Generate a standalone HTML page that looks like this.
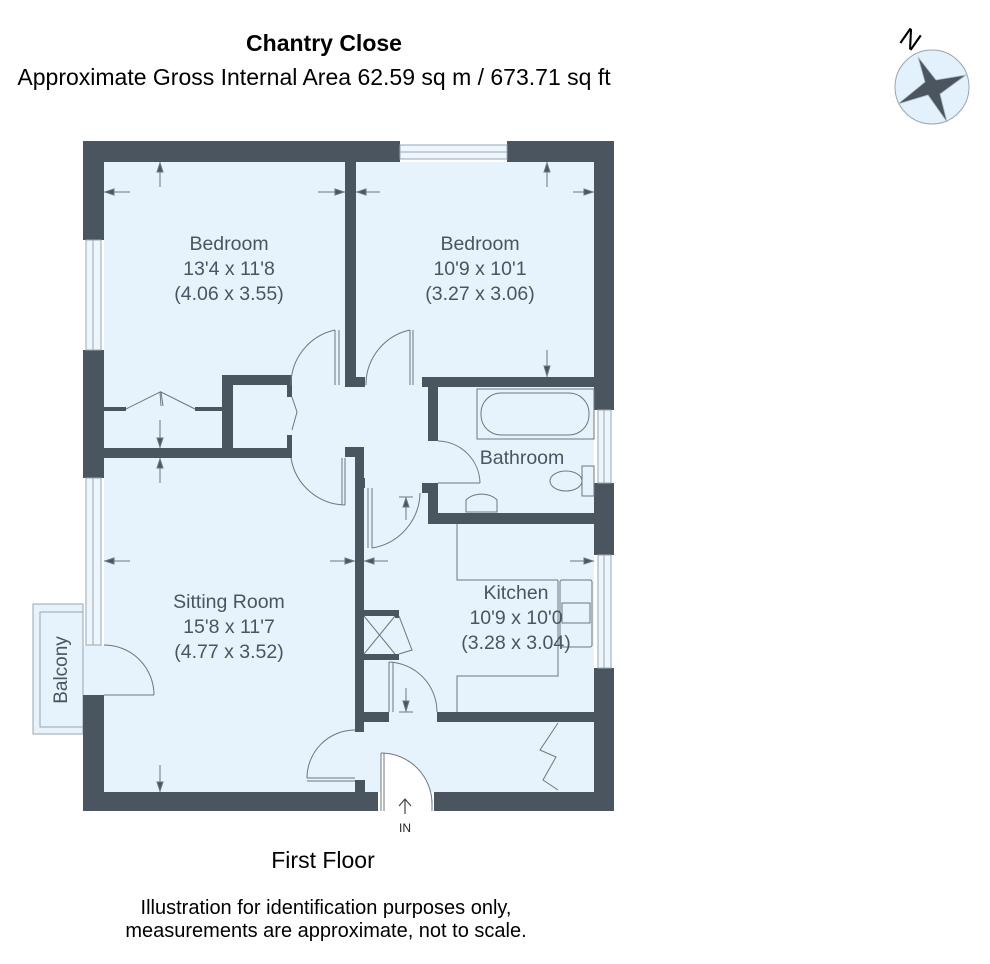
<!DOCTYPE html>
<html><head><meta charset="utf-8"><style>
html,body{margin:0;padding:0;background:#fff;}
svg{display:block;}
text{font-family:"Liberation Sans",Arial,sans-serif;}
</style></head><body>
<svg width="990" height="964" viewBox="0 0 990 964" xmlns="http://www.w3.org/2000/svg">
<text x="324" y="51" font-size="23" font-weight="bold" text-anchor="middle" fill="#000">Chantry Close</text>
<text x="314" y="85" font-size="23" text-anchor="middle" fill="#000">Approximate Gross Internal Area 62.59 sq m / 673.71 sq ft</text>

<!-- compass -->
<g>
<text x="910" y="48" font-size="26" fill="#000" transform="rotate(35 910 40)" text-anchor="middle">N</text>
<circle cx="932" cy="87" r="37" fill="#e3f1fc" stroke="#9aa5ae" stroke-width="1"/>
<polygon points="918,57 936,80 966,75 940,94 947,122 928,95 898,104 925,82" fill="#4a5560" stroke="#b0bac2" stroke-width="0.8"/>
</g>

<!-- floor fill -->
<rect x="104" y="162" width="490" height="630" fill="#e6f2fc"/>
<rect x="83" y="645" width="21" height="50" fill="#e6f2fc"/>
<rect x="33" y="604" width="50" height="130" fill="#e6f2fc" stroke="#9aa5ae"/>
<rect x="40" y="612" width="43" height="115" fill="none" stroke="#9aa5ae"/>
<text x="0" y="0" font-size="19" fill="#4a5560" text-anchor="middle" transform="translate(67 670) rotate(-90)">Balcony</text>

<g fill="#4a5560">
<rect x="83" y="141" width="317" height="21"/>
<rect x="507" y="141" width="107" height="21"/>
<rect x="83" y="141" width="21" height="99"/>
<rect x="83" y="350" width="21" height="128"/>
<rect x="83" y="695" width="21" height="116"/>
<rect x="594" y="141" width="20" height="269"/>
<rect x="594" y="483" width="20" height="72"/>
<rect x="594" y="668" width="20" height="143"/>
<rect x="83" y="792" width="295" height="19"/>
<rect x="434" y="792" width="180" height="19"/>
<rect x="345" y="162" width="11" height="223"/>
<rect x="345" y="377" width="20" height="10"/>
<rect x="104" y="448" width="188" height="10"/>
<rect x="222" y="375" width="70" height="10"/>
<rect x="222" y="375" width="11" height="80"/>
<rect x="287" y="385" width="5" height="12"/>
<rect x="287" y="435" width="5" height="13"/>
<rect x="104" y="407" width="22" height="4"/>
<rect x="195" y="407" width="27" height="4"/>
<rect x="422" y="377" width="172" height="10"/>
<rect x="428" y="377" width="10" height="64"/>
<rect x="422" y="483" width="16" height="10"/>
<rect x="428" y="483" width="10" height="41"/>
<rect x="428" y="513" width="166" height="11"/>
<rect x="345" y="447" width="19" height="10"/>
<rect x="355" y="447" width="9" height="285"/>
<rect x="355" y="478" width="10" height="10"/>
<rect x="355" y="780" width="10" height="12"/>
<rect x="355" y="712" width="34" height="10"/>
<rect x="437" y="712" width="157" height="10"/>
<rect x="364" y="610" width="35" height="6"/>
<rect x="364" y="654" width="35" height="6"/>
<rect x="395" y="610" width="4" height="8"/>
</g>

<g fill="#eef6fd" stroke="#9aa5ae" stroke-width="1">
<rect x="400" y="145" width="107" height="14"/>
<rect x="86" y="240" width="15" height="110"/>
<rect x="86" y="478" width="15" height="167"/>
<rect x="598" y="410" width="13" height="73"/>
<rect x="598" y="555" width="13" height="113"/>
</g>
<g stroke="#9aa5ae" stroke-width="1" fill="none">
<line x1="400" y1="152" x2="507" y2="152"/>
<line x1="93" y1="240" x2="93" y2="350"/>
<line x1="93" y1="478" x2="93" y2="645"/>
<line x1="604" y1="410" x2="604" y2="483"/>
<line x1="604" y1="555" x2="604" y2="668"/>
</g>

<path d="M381,753 A51,51 0 0 1 432,804 L432,811 L381,811 Z" fill="#fff"/>
<g stroke="#6c7780" stroke-width="1" fill="none">
<path d="M381,753 A51,51 0 0 1 432,804"/><line x1="381" y1="753" x2="381" y2="811"/><line x1="384" y1="753" x2="384" y2="811"/><line x1="432" y1="800" x2="432" y2="811"/>
<path d="M335,330 A56,56 0 0 0 291,385"/><line x1="335" y1="330" x2="335" y2="385"/><line x1="339" y1="330" x2="339" y2="385"/>
<path d="M410,330 A56,56 0 0 0 366,385"/><line x1="410" y1="330" x2="410" y2="385"/><line x1="413" y1="330" x2="413" y2="385"/>
<path d="M291,458 A56,56 0 0 0 345,505"/><line x1="345" y1="458" x2="345" y2="505"/><line x1="342" y1="458" x2="342" y2="505"/>
<path d="M438,441 A43,43 0 0 1 480,483"/><line x1="438" y1="483" x2="480" y2="483"/>
<path d="M420,493 A57,57 0 0 1 372,548"/><line x1="368" y1="488" x2="368" y2="548"/><line x1="372" y1="488" x2="372" y2="548"/>
<path d="M389,662 A50,50 0 0 1 437,712"/><line x1="389" y1="662" x2="389" y2="712"/><line x1="393" y1="662" x2="393" y2="712"/>
<path d="M355,730 A48,48 0 0 0 307,778"/><line x1="307" y1="778" x2="355" y2="778"/><line x1="307" y1="781" x2="355" y2="781"/>
<path d="M104,645 A50,50 0 0 1 154,695"/><line x1="104" y1="695" x2="154" y2="695"/>
<path d="M126,409 L160,392 L161,406 M195,409 L161,392 L163,406"/>
<path d="M292,397 L297,412 L292,430"/>
<path d="M558,723 L540,750 L556,757 L543,780 L558,790"/>
<path d="M364,616 L395,654 M395,616 L364,654 M399,616 L412,650 L399,654"/>
<path d="M457,524 L457,580 L558,580 M558,580 L558,676 L457,676 L457,712"/>
<rect x="560" y="580" width="32" height="67" rx="2"/>
<rect x="562" y="603" width="28" height="20"/>
<rect x="477" y="389" width="117" height="50"/>
<rect x="481" y="393" width="108" height="42" rx="20"/>
<rect x="582" y="466" width="12" height="30"/>
<ellipse cx="566" cy="481" rx="16" ry="10"/>
<path d="M466,512 L466,500 A18,12 0 0 1 497,500 L497,512 Z"/>
</g>

<g stroke="#6c7780" stroke-width="1" fill="#4a5560">
<line x1="160" y1="162" x2="160" y2="187"/><polygon points="157,172 163,172 160,163"/>
<line x1="104" y1="192" x2="130" y2="192"/><polygon points="114,189 114,195 105,192"/>
<line x1="318" y1="192" x2="345" y2="192"/><polygon points="335,189 335,195 344,192"/>
<line x1="356" y1="192" x2="380" y2="192"/><polygon points="366,189 366,195 357,192"/>
<line x1="573" y1="192" x2="594" y2="192"/><polygon points="584,189 584,195 593,192"/>
<line x1="547" y1="162" x2="547" y2="187"/><polygon points="544,172 550,172 547,163"/>
<line x1="547" y1="350" x2="547" y2="377"/><polygon points="544,366 550,366 547,376"/>
<line x1="160" y1="420" x2="160" y2="448"/><polygon points="157,438 163,438 160,447"/>
<line x1="160" y1="458" x2="160" y2="483"/><polygon points="157,468 163,468 160,459"/>
<line x1="104" y1="561" x2="130" y2="561"/><polygon points="114,558 114,564 105,561"/>
<line x1="330" y1="561" x2="355" y2="561"/><polygon points="345,558 345,564 354,561"/>
<line x1="364" y1="561" x2="388" y2="561"/><polygon points="374,558 374,564 365,561"/>
<line x1="570" y1="561" x2="594" y2="561"/><polygon points="584,558 584,564 593,561"/>
<line x1="160" y1="765" x2="160" y2="792"/><polygon points="157,782 163,782 160,791"/>
<line x1="406" y1="497" x2="406" y2="520"/><line x1="399" y1="497" x2="413" y2="497"/><polygon points="403,507 409,507 406,498"/>
<line x1="406" y1="688" x2="406" y2="712"/><line x1="399" y1="712" x2="413" y2="712"/><polygon points="403,701 409,701 406,711"/>
</g>
<path d="M405,814 L405,799 M399,806 L405,799 L411,806" stroke="#444" stroke-width="1.2" fill="none"/>
<text x="405" y="832" font-size="12" text-anchor="middle" fill="#222">IN</text>

<g font-size="19.5" fill="#4a5560" text-anchor="middle">
<text x="229" y="250">Bedroom</text><text x="229" y="275">13'4 x 11'8</text><text x="229" y="300">(4.06 x 3.55)</text>
<text x="480" y="250">Bedroom</text><text x="480" y="275">10'9 x 10'1</text><text x="480" y="300">(3.27 x 3.06)</text>
<text x="522" y="464">Bathroom</text>
<text x="229" y="608">Sitting Room</text><text x="229" y="633">15'8 x 11'7</text><text x="229" y="658">(4.77 x 3.52)</text>
<text x="516" y="599">Kitchen</text><text x="516" y="624">10'9 x 10'0</text><text x="516" y="649">(3.28 x 3.04)</text>
</g>

<text x="323" y="868" font-size="23" text-anchor="middle" fill="#000">First Floor</text>
<text x="326" y="914" font-size="20" text-anchor="middle" fill="#000">Illustration for identification purposes only,</text>
<text x="326" y="937" font-size="20" text-anchor="middle" fill="#000">measurements are approximate, not to scale.</text>
</svg>
</body></html>
